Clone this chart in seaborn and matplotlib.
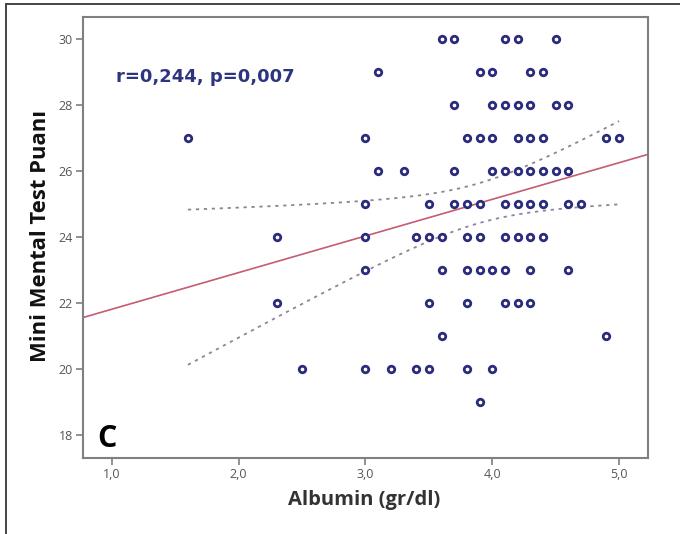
import numpy as np
import pandas as pd
import matplotlib
matplotlib.use('Agg')
import matplotlib.pyplot as plt
import seaborn as sns
from matplotlib.lines import Line2D
from matplotlib.ticker import FuncFormatter, FixedLocator

mmse_30 = [3.6, 3.7, 4.1, 4.2, 4.5]
mmse_29 = [3.1, 3.9, 4.0, 4.3, 4.4]
mmse_28 = [3.7, 4.0, 4.1, 4.2, 4.3, 4.5, 4.6]
mmse_27 = [1.6, 3.0, 3.8, 3.9, 4.0, 4.2, 4.3, 4.4, 4.9, 5.0]
mmse_26 = [3.1, 3.3, 3.7, 4.0, 4.1, 4.2, 4.3, 4.4, 4.5, 4.6]
mmse_25 = [3.0, 3.5, 3.7, 3.8, 3.9, 4.1, 4.2, 4.3, 4.4, 4.6, 4.7]
mmse_24 = [2.3, 3.0, 3.4, 3.5, 3.6, 3.8, 3.9, 4.1, 4.2, 4.3, 4.4]
mmse_23 = [3.0, 3.6, 3.8, 3.9, 4.0, 4.1, 4.3, 4.6]
mmse_22 = [2.3, 3.5, 3.8, 4.1, 4.2, 4.3]
mmse_21 = [3.6, 4.9]
mmse_20 = [2.5, 3.0, 3.2, 3.4, 3.5, 3.8, 4.0]
mmse_19 = [3.9]

rows = {30: mmse_30, 29: mmse_29, 28: mmse_28, 27: mmse_27, 26: mmse_26,
        25: mmse_25, 24: mmse_24, 23: mmse_23, 22: mmse_22, 21: mmse_21,
        20: mmse_20, 19: mmse_19}

x_ticks = [1.0, 2.0, 3.0, 4.0, 5.0]
y_ticks = [18, 20, 22, 24, 26, 28, 30]
stat_text = 'r=0,244, p=0,007'
panel_letter = 'C'

df = pd.DataFrame([(a, m) for m, vals in rows.items() for a in vals],
                  columns=['albumin', 'mmse'])

sns.set_style('white')
plt.rcParams['font.family'] = ['Open Sans', 'DejaVu Sans']

fig = plt.figure(figsize=(6.8, 5.34), dpi=100)
ax = fig.add_axes([0.1216, 0.1418, 0.8318, 0.8258])
ax.set_xlim(0.77, 5.23)
ax.set_ylim(17.3, 30.67)

# fit line across the whole axis
sns.regplot(data=df, x='albumin', y='mmse', ax=ax, scatter=False, ci=None,
            truncate=False, line_kws={'color': '#c45c72', 'lw': 1.2})

# 95% CI of the mean, dotted, over the data range
x = df['albumin'].values
y = df['mmse'].values
n = len(x)
b, a = np.polyfit(x, y, 1)
resid = y - (a + b * x)
s = np.sqrt(np.sum(resid ** 2) / (n - 2))
sxx = np.sum((x - x.mean()) ** 2)
xs = np.linspace(x.min(), x.max(), 100)
se = s * np.sqrt(1 / n + (xs - x.mean()) ** 2 / sxx)
t_crit = 1.99
for sign in (1, -1):
    ax.plot(xs, a + b * xs + sign * t_crit * se, color='#8e8498',
            lw=1.3, ls=(0, (1.8, 2.6)))

sns.scatterplot(data=df, x='albumin', y='mmse', ax=ax, marker='o', s=22,
                color='white', edgecolor='#2b2b7d', linewidth=2.0, zorder=5)

ax.text(1.03, 28.87, stat_text, family='DejaVu Sans', fontweight='bold',
        fontsize=13, color='#2e3580', va='center', ha='left')
ax.text(0.96, 17.89, panel_letter, fontsize=22, fontweight='bold',
        color='black', va='center', ha='center')

ax.xaxis.set_major_locator(FixedLocator(x_ticks))
ax.yaxis.set_major_locator(FixedLocator(y_ticks))
ax.xaxis.set_major_formatter(FuncFormatter(lambda v, p: f'{v:.1f}'.replace('.', ',')))
ax.yaxis.set_major_formatter(FuncFormatter(lambda v, p: f'{v:.0f}'))
ax.tick_params(direction='out', length=5, width=1.2, color='#7f7f7f',
               labelcolor='#555555', labelsize=9, pad=2,
               bottom=True, left=True)
for sp in ax.spines.values():
    sp.set_color('#808080')
    sp.set_linewidth(1.5)

ax.set_xlabel('Albumin (gr/dl)', fontsize=14.5, fontweight='bold',
              color='#333333')
ax.set_ylabel('Mini Mental Test Puanı', fontsize=15.8, fontweight='bold',
              color='#111111')
ax.xaxis.set_label_coords(0.498, -0.073)
ax.yaxis.set_label_coords(-0.056, 0.505)

# partial outer frame of the original figure
fig.add_artist(Line2D([6 / 680, 6 / 680], [0, 1 - 3.5 / 534],
                      transform=fig.transFigure, color='#444444', lw=1.4))
fig.add_artist(Line2D([6 / 680, 1], [1 - 3.5 / 534, 1 - 3.5 / 534],
                      transform=fig.transFigure, color='#444444', lw=1.4))

fig.savefig('out.png', dpi=100)
